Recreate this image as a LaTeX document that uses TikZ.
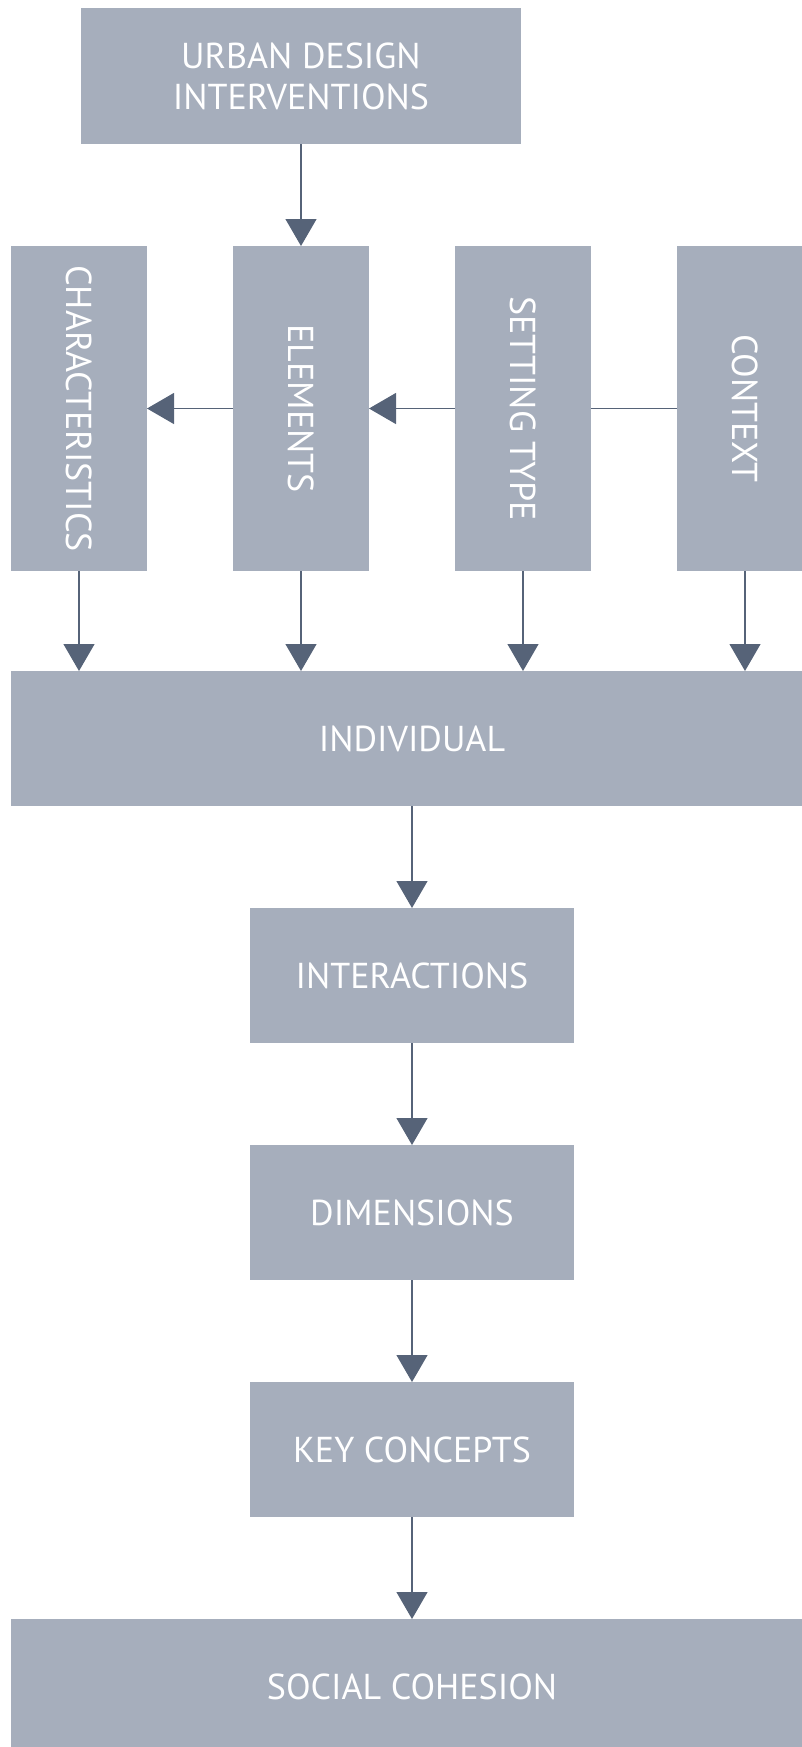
\documentclass[tikz,border=0pt]{standalone}
\usepackage{fontspec}
\setmainfont{PT Sans}
\usepackage{graphicx}
\usetikzlibrary{positioning, arrows.meta}
\definecolor{boxgray}{HTML}{A6AEBC}
\definecolor{arrowgray}{HTML}{566378}

\begin{document}
\begin{tikzpicture}[x=0.5pt, y=-0.5pt, node distance=51pt and 43pt]
  \tikzset{
    block/.style={
      fill=boxgray, text=white, inner sep=0pt, outer sep=0pt, align=center,
      minimum height=67.5pt, font=\fontsize{18}{20.5}\selectfont
    },
    wide/.style={block, minimum width=401pt},
    mid/.style={block, minimum width=162pt},
    column/.style={block, minimum width=68pt, minimum height=162.5pt},
    flow/.style={draw=arrowgray, line width=0.6pt, -{Triangle[length=13.5pt, width=15.5pt]}},
    link/.style={draw=arrowgray, line width=0.6pt}
  }
  \clip (0,0) rectangle (802,1747);
  \node[block, minimum width=220pt, minimum height=68pt] (udi) at (301,76) {URBAN DESIGN\\INTERVENTIONS};
  \node[column, below=of udi] (elem) {\rotatebox{-90}{ELEMENTS}};
  \node[column, left=of elem] (char) {\rotatebox{-90}{CHARACTERISTICS}};
  \node[column, right=of elem] (sett) {\rotatebox{-90}{SETTING TYPE}};
  \node[column, right=of sett] (ctx) {\rotatebox{-90}{CONTEXT}};
  \node[wide] (indiv) at (412,738.5) {INDIVIDUAL};
  \node[mid, below=of indiv] (inter) {INTERACTIONS};
  \node[mid, below=of inter] (dims) {DIMENSIONS};
  \node[mid, below=of dims] (keyc) {KEY CONCEPTS};
  \node[wide, below=of keyc] (cohesion) {SOCIAL COHESION};

  \draw[flow] (udi) -- (elem);
  \draw[flow] (elem) -- (char);
  \draw[flow] (sett) -- (elem);
  \draw[link] (ctx) -- (sett);
  \foreach \c in {char, elem, sett, ctx}
    \draw[flow] (\c) -- (\c |- indiv.north);
  \draw[flow] (indiv) -- (inter);
  \draw[flow] (inter) -- (dims);
  \draw[flow] (dims) -- (keyc);
  \draw[flow] (keyc) -- (cohesion);
\end{tikzpicture}
\end{document}
